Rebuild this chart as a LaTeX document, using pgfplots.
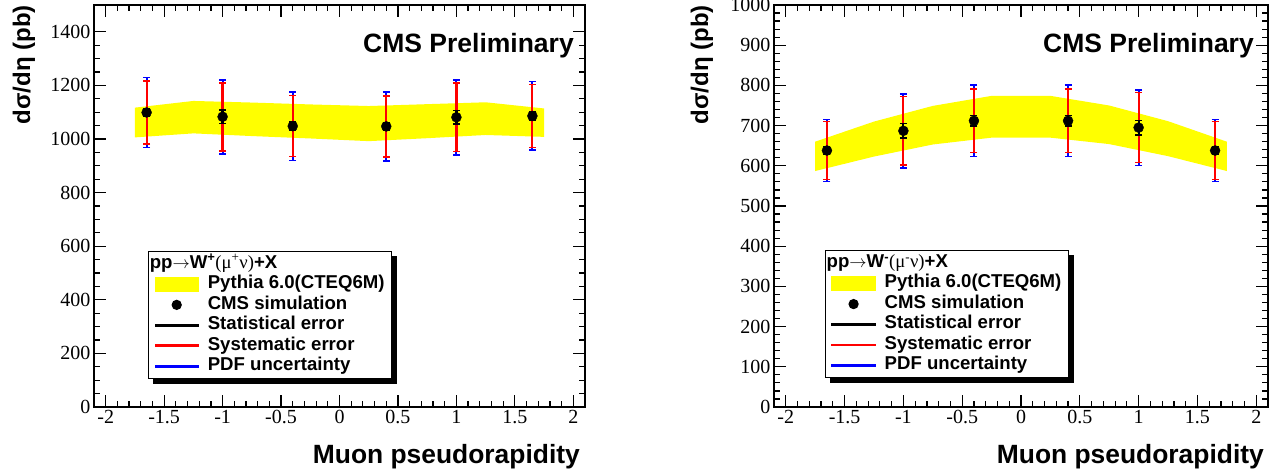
\documentclass[border=0pt]{standalone}
\usepackage{fontspec}
\setmainfont{Liberation Serif}
\newfontfamily\hel{Liberation Sans}
\newfontfamily\sym{Liberation Serif}
\usepackage{pgfplots}
\pgfplotsset{compat=1.18}
\usepackage{pgfplotstable}
\definecolor{ry}{RGB}{255,255,0}
\definecolor{rr}{RGB}{255,0,0}
\definecolor{rb}{RGB}{0,0,255}

\pgfplotstableread{
x y stat syst pdf
-1.65 1099 15 118 130
-1.0 1083 25 127 138
-0.4 1048 15 114 128
0.4 1047 15 114 128
1.0 1081 25 128 140
1.65 1086 15 117 128
}\wplus

\pgfplotstableread{
x y stat syst pdf
-1.65 638 10 72 77
-1.0 687 18 85 92
-0.4 712 13 79 89
0.4 712 13 79 89
1.0 695 18 87 94
1.65 638 10 72 77
}\wminus

\pgfplotsset{
  cmsaxis/.style={
    scale only axis, anchor=south west,
    xmin=-2.1, xmax=2.1, ymin=0,
    xtick={-2,-1.5,-1,-0.5,0,0.5,1,1.5,2},
    minor x tick num=4,
    tick align=inside,
    major tick length=12pt, minor tick length=6pt,
    axis line style={line width=1.6pt},
    tick style={black, line width=1.2pt},
    ticklabel style={font=\fontsize{20}{20}\selectfont},
    /pgf/number format/assume math mode=true,
    /pgf/number format/1000 sep={},
    scaled ticks=false,
    legend cell align=left,
    legend style={anchor=north west, draw=black, line width=1.2pt, fill=white,
      inner ysep=2pt, inner xsep=6pt,
      font=\hel\bfseries\fontsize{18.6}{20}\selectfont,
      nodes={inner sep=1pt, text height=13.5pt, text depth=5pt},
      row sep=0pt,
      /tikz/every odd column/.append style={column sep=8pt}},
  },
  pdfbar/.style={forget plot, draw=none, mark=none,
    error bars/.cd, y dir=both, y explicit,
    error bar style={draw=rb, line width=2pt},
    error mark options={rotate=90, draw=rb, mark size=3.5pt, line width=1.6pt}},
  sysbar/.style={forget plot, draw=none, mark=none,
    error bars/.cd, y dir=both, y explicit,
    error bar style={draw=rr, line width=2.2pt},
    error mark options={rotate=90, draw=rr, mark size=3.5pt, line width=1.6pt}},
  statbar/.style={forget plot, draw=none, mark=none,
    error bars/.cd, y dir=both, y explicit,
    error bar style={draw=black, line width=2.2pt},
    error mark options={rotate=90, draw=black, mark size=3.5pt, line width=1.6pt}},
}

\newcommand{\cmslegend}[1]{%
  \addlegendimage{empty legend}\addlegendentry{\hspace*{-58pt}#1}
  \addlegendimage{legend image code/.code={\fill[ry] (0pt,-7pt) rectangle (43pt,7pt);}}\addlegendentry{Pythia 6.0(CTEQ6M)}
  \addlegendimage{legend image code/.code={\fill[black] (21.5pt,0pt) circle (4.5pt);}}\addlegendentry{CMS simulation}
  \addlegendimage{legend image code/.code={\fill[black] (0pt,-0.8pt) rectangle (43pt,0.8pt);}}\addlegendentry{Statistical error}
  \addlegendimage{legend image code/.code={\fill[rr] (0pt,-0.8pt) rectangle (43pt,0.8pt);}}\addlegendentry{Systematic error}
  \addlegendimage{legend image code/.code={\fill[rb] (0pt,-0.8pt) rectangle (43pt,0.8pt);}}\addlegendentry{PDF uncertainty}
}
\newcommand{\shadowof}[1]{%
  \fill[black] ([xshift=5pt]#1.south west) rectangle ([xshift=5pt,yshift=-5pt]#1.south east);
  \fill[black] (#1.south east) rectangle ([xshift=5pt,yshift=-5pt]#1.north east);
}

\begin{document}
\begin{tikzpicture}
\path[use as bounding box] (0pt,0pt) rectangle (1273pt,475pt);

\begin{axis}[cmsaxis, at={(94pt,68pt)}, width=491pt, height=402pt,
  ymax=1500, ytick={0,200,...,1400}, minor y tick num=3,
  legend style={at={(0.110,0.388)}, name=legL}]
\addplot[forget plot, fill=ry, draw=none] coordinates {
 (-1.75,1117) (-1.25,1142) (-0.75,1136) (-0.25,1129) (0.25,1123) (0.75,1130) (1.25,1137) (1.75,1114)
 (1.75,1008) (1.25,1015) (0.75,1003) (0.25,992) (-0.25,1002) (-0.75,1011) (-1.25,1021) (-1.75,1006)} -- cycle;
\addplot[pdfbar] table[x=x, y=y, y error=pdf] {\wplus};
\addplot[sysbar] table[x=x, y=y, y error=syst] {\wplus};
\addplot[statbar] table[x=x, y=y, y error=stat] {\wplus};
\addplot[forget plot, only marks, mark=*, mark size=5pt, black] table[x=x, y=y] {\wplus};
\cmslegend{pp{\mdseries$\rightarrow$}W\textsuperscript{+}{\sym\mdseries (μ\textsuperscript{+}ν)}+X}
\end{axis}
\shadowof{legL}

\begin{axis}[cmsaxis, at={(774pt,68pt)}, width=494pt, height=402pt,
  ymax=1000, ytick={0,100,...,1000}, minor y tick num=4,
  legend style={at={(0.103,0.390)}, name=legR}]
\addplot[forget plot, fill=ry, draw=none] coordinates {
 (-1.75,660) (-1.25,710) (-0.75,749) (-0.25,774) (0.25,774) (0.75,750) (1.25,711) (1.75,660)
 (1.75,587) (1.25,624) (0.75,654) (0.25,670) (-0.25,670) (-0.75,653) (-1.25,623) (-1.75,587)} -- cycle;
\addplot[pdfbar] table[x=x, y=y, y error=pdf] {\wminus};
\addplot[sysbar] table[x=x, y=y, y error=syst] {\wminus};
\addplot[statbar] table[x=x, y=y, y error=stat] {\wminus};
\addplot[forget plot, only marks, mark=*, mark size=5pt, black] table[x=x, y=y] {\wminus};
\cmslegend{pp{\mdseries$\rightarrow$}W\textsuperscript{-}{\sym\mdseries (μ\textsuperscript{-}ν)}+X}
\end{axis}
\shadowof{legR}

\node[rotate=90, anchor=base east, inner sep=0pt, font=\hel\bfseries\fontsize{24}{24}\selectfont] at (30pt,470pt) {dσ/dη (pb)};
\node[rotate=90, anchor=base east, inner sep=0pt, font=\hel\bfseries\fontsize{24}{24}\selectfont] at (708pt,470pt) {dσ/dη (pb)};

\node[anchor=base east, inner sep=0pt, font=\hel\bfseries\fontsize{26.4}{26}\selectfont] at (580pt,12pt) {Muon pseudorapidity};
\node[anchor=base east, inner sep=0pt, font=\hel\bfseries\fontsize{26.4}{26}\selectfont] at (1264pt,12pt) {Muon pseudorapidity};

\node[anchor=base east, inner sep=0pt, font=\hel\bfseries\fontsize{26.5}{26}\selectfont] at (574pt,422pt) {CMS Preliminary};
\node[anchor=base east, inner sep=0pt, font=\hel\bfseries\fontsize{26.5}{26}\selectfont] at (1254pt,422pt) {CMS Preliminary};
\end{tikzpicture}
\end{document}
